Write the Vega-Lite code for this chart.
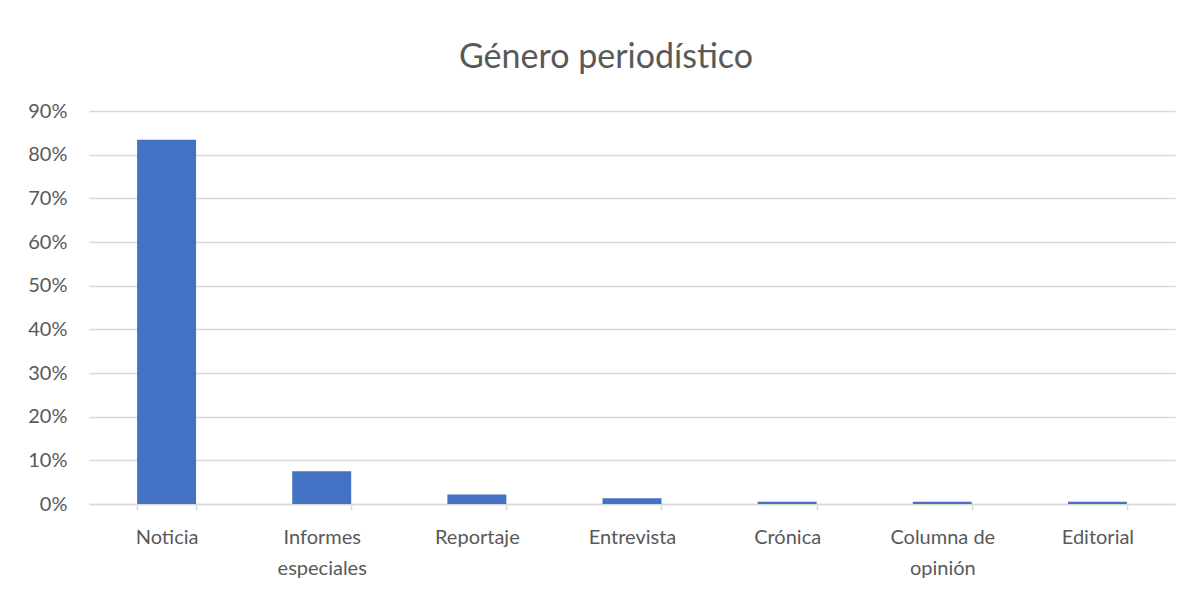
{
  "$schema": "https://vega.github.io/schema/vega-lite/v6.json",
  "autosize": {"type": "none"},
  "width": 1086,
  "height": 393,
  "padding": {"left": 89, "top": 111, "right": 17, "bottom": 86},
  "background": "white",
  "config": {
    "font": "Lato",
    "view": {"stroke": null}
  },
  "title": {
    "text": "Género periodístico",
    "fontSize": 34,
    "fontWeight": "normal",
    "color": "#595959",
    "font": "Lato",
    "anchor": "middle",
    "dx": -26,
    "offset": 26
  },
  "data": {
    "values": [
      {"genero": "Noticia", "porcentaje": 0.834},
      {"genero": "Informes especiales", "porcentaje": 0.075},
      {"genero": "Reportaje", "porcentaje": 0.022},
      {"genero": "Entrevista", "porcentaje": 0.013},
      {"genero": "Crónica", "porcentaje": 0.005},
      {"genero": "Columna de opinión", "porcentaje": 0.005},
      {"genero": "Editorial", "porcentaje": 0.005}
    ]
  },
  "mark": {"type": "bar", "color": "#4472C4"},
  "encoding": {
    "x": {
      "field": "genero",
      "type": "nominal",
      "sort": null,
      "scale": {"paddingInner": 0.62, "paddingOuter": 0.31},
      "axis": {
        "title": null,
        "labelAngle": 0,
        "labelFontSize": 20,
        "labelColor": "#595959",
        "labelPadding": 17,
        "labelLineHeight": 31,
        "labelExpr": "datum.label == 'Informes especiales' ? ['Informes', 'especiales'] : datum.label == 'Columna de opinión' ? ['Columna de', 'opinión'] : datum.label",
        "domainColor": "#d9d9d9",
        "domainWidth": 1.5,
        "tickColor": "#d9d9d9",
        "tickSize": 6,
        "tickWidth": 1.5,
        "tickBand": "extent",
        "grid": false
      }
    },
    "y": {
      "field": "porcentaje",
      "type": "quantitative",
      "scale": {"domain": [0, 0.9], "nice": false},
      "axis": {
        "title": null,
        "values": [0, 0.1, 0.2, 0.3, 0.4, 0.5, 0.6, 0.7, 0.8, 0.9],
        "format": ".0%",
        "labelFontSize": 20,
        "labelColor": "#595959",
        "labelPadding": 22,
        "domain": false,
        "ticks": false,
        "gridColor": "#d9d9d9",
        "gridWidth": 1.5
      }
    }
  }
}
